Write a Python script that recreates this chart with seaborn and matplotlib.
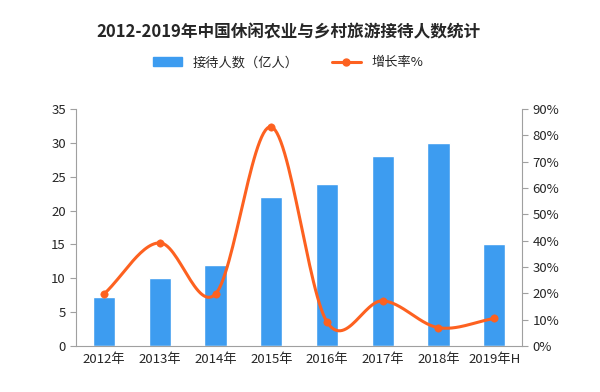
import numpy as np
import pandas as pd
import seaborn as sns
import matplotlib.pyplot as plt
from matplotlib.patches import Patch
from matplotlib.lines import Line2D

years = ['2012年', '2013年', '2014年', '2015年', '2016年', '2017年', '2018年', '2019年H']
visitors = [7.2, 10, 12, 22, 24, 28, 30, 15]          # 接待人数（亿人）
growth = [19.8, 39.2, 19.8, 83.2, 9.2, 17.2, 7.0, 10.5]  # 增长率%

sns.set_style('white')
plt.rcParams['font.family'] = ['Noto Sans CJK SC', 'DejaVu Sans']

bar_color = '#3d9cf0'
line_color = '#fd6120'
grey = '#a0a0a0'

df = pd.DataFrame({'year': years, 'visitors': visitors, 'growth': growth})

fig = plt.figure(figsize=(6, 3.92), dpi=100)
ax = fig.add_axes([0.127, 0.117, 0.743, 0.605])

sns.barplot(data=df, x='year', y='visitors', color=bar_color, width=0.4,
            saturation=1, ax=ax)
ax.set_xlim(-0.5, 7.5)
ax.set_ylim(0, 35)
ax.set_yticks(range(0, 36, 5))
ax.set_xlabel('')
ax.set_ylabel('')

# x ticks sit between categories
ax.set_xticks(np.arange(-0.5, 8, 1), minor=True)
ax.tick_params(axis='x', which='major', length=0, labelsize=9.5, pad=5)
ax.tick_params(axis='x', which='minor', length=4, color=grey, direction='out')
ax.tick_params(axis='y', length=4, color=grey, direction='out', labelsize=9.5, left=True)
for s in ['top', 'right']:
    ax.spines[s].set_visible(False)
for s in ['left', 'bottom']:
    ax.spines[s].set_color(grey)

ax2 = ax.twinx()
# smoothed line like the original (Catmull-Rom through the points)
xs = np.arange(len(growth), dtype=float)
ys = np.array(growth, dtype=float)
px = np.concatenate([[2 * xs[0] - xs[1]], xs, [2 * xs[-1] - xs[-2]]])
py = np.concatenate([[2 * ys[0] - ys[1]], ys, [2 * ys[-1] - ys[-2]]])
cx, cy = [], []
t = np.linspace(0, 1, 30)
for i in range(1, len(px) - 2):
    p0, p1, p2, p3 = py[i - 1], py[i], py[i + 1], py[i + 2]
    q0, q1, q2, q3 = px[i - 1], px[i], px[i + 1], px[i + 2]
    cy.extend(0.5 * (2 * p1 + (-p0 + p2) * t + (2 * p0 - 5 * p1 + 4 * p2 - p3) * t ** 2
                     + (-p0 + 3 * p1 - 3 * p2 + p3) * t ** 3))
    cx.extend(0.5 * (2 * q1 + (-q0 + q2) * t + (2 * q0 - 5 * q1 + 4 * q2 - q3) * t ** 2
                     + (-q0 + 3 * q1 - 3 * q2 + q3) * t ** 3))
ax2.plot(cx, cy, color=line_color, lw=2.2)
sns.scatterplot(x=xs, y=ys, color=line_color, s=28, edgecolor=line_color, ax=ax2, zorder=5)
ax2.set_ylim(0, 90)
ax2.set_yticks(range(0, 91, 10))
ax2.set_yticklabels([f'{v}%' for v in range(0, 91, 10)])
ax2.tick_params(axis='y', length=4, color=grey, direction='out', labelsize=9.5, right=True)
ax2.set_xlim(-0.5, 7.5)
for s in ['top', 'left', 'bottom']:
    ax2.spines[s].set_visible(False)
ax2.spines['right'].set_color(grey)

fig.text(0.48, 0.918, '2012-2019年中国休闲农业与乡村旅游接待人数统计',
         ha='center', va='center', fontsize=12, fontweight='bold')

handles = [Patch(color=bar_color),
           Line2D([0], [0], color=line_color, lw=2.2, marker='o', markersize=5)]
fig.legend(handles, ['接待人数（亿人）', '增长率%'], loc='center', ncol=2,
           bbox_to_anchor=(0.48, 0.84), frameon=False, fontsize=9.5,
           handlelength=2.2, columnspacing=2.5)

fig.savefig('out.png', dpi=100)
